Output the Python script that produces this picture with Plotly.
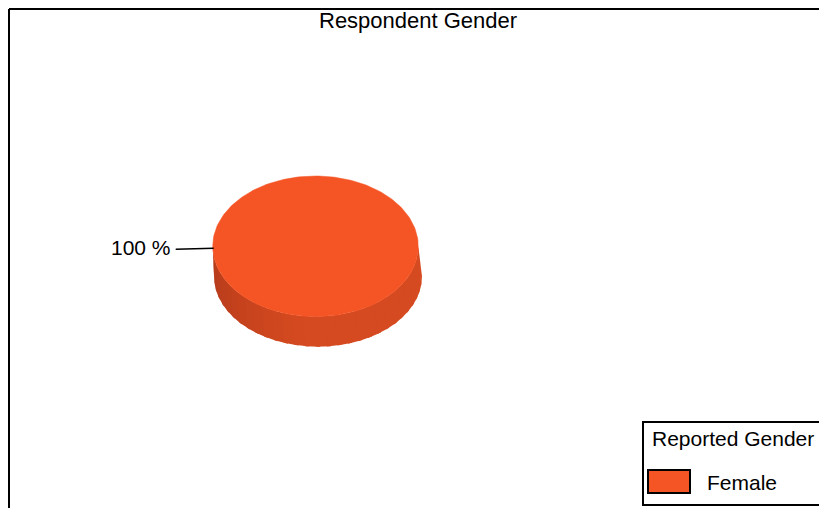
import numpy as np
import plotly.graph_objects as go

# ---- data ----
title_text = "Respondent Gender"
legend_title = "Reported Gender"
categories = ["Female"]
values = [100]
colors = ["#F55424"]
side_dark = ["#B53B1B"]
side_light = ["#D54A20"]

W, H = 827, 508
OFF = 8  # page body margin of the html page
FONT = "Liberation Sans, Arial, sans-serif"

# geometry (screen pixel space)
cx, cy, rx, ry = 315.5, 246.3, 102.8, 70.3
bcx, bcy, brx, bry = 318.0, 276.4, 104.0, 70.3

fig = go.Figure()
annotations = [
    dict(x=W / 2 + 4, y=20, text=title_text, showarrow=False, xanchor="center",
         yanchor="middle", font=dict(size=22, color="black", family=FONT)),
]


def hex2rgb(h):
    return np.array([int(h[j:j + 2], 16) for j in (1, 3, 5)], dtype=float)


total = float(sum(values))
start = np.pi  # begin at the left of the ellipse
for i, (cat, v) in enumerate(zip(categories, values)):
    frac = v / total
    a0, a1 = start, start + 2 * np.pi * frac
    # --- side: front half (angles pi..0, y pointing down) drawn as shaded strips ---
    n_strips = 30
    edges = np.linspace(np.pi, 0, n_strips + 1)
    c0, c1 = hex2rgb(side_dark[i]), hex2rgb(side_light[i])
    for k in range(n_strips):
        t0 = edges[k] + (0.02 if k > 0 else 0)
        t1 = edges[k + 1] - (0.02 if k < n_strips - 1 else 0)
        ts = np.linspace(t0, t1, 8)
        xt = cx + rx * np.cos(ts)
        yt = cy + ry * np.sin(ts)
        xb = bcx + brx * np.cos(ts[::-1])
        yb = bcy + bry * np.sin(ts[::-1])
        f = min(1.0, (k / (n_strips - 1)) * 2.2)
        col = "rgb(%d,%d,%d)" % tuple((c0 + (c1 - c0) * f).astype(int))
        fig.add_trace(go.Scatter(
            x=np.concatenate([xt, xb, xt[:1]]), y=np.concatenate([yt, yb, yt[:1]]),
            mode="lines", fill="toself", fillcolor=col,
            line=dict(width=0), hoverinfo="skip", showlegend=False))
    # --- top face ---
    ts = np.linspace(a0, a1, 240)
    xs = cx + rx * np.cos(ts)
    ys = cy + ry * np.sin(ts)
    if frac < 1:
        xs = np.concatenate([[cx], xs, [cx]])
        ys = np.concatenate([[cy], ys, [cy]])
    fig.add_trace(go.Scatter(
        x=xs, y=ys, mode="lines", fill="toself", fillcolor=colors[i],
        line=dict(width=0.5, color=colors[i]), name=cat,
        hovertemplate=f"{cat}: {v / total * 100:.0f} %<extra></extra>", showlegend=False))
    # --- label with leader line ---
    amid = (a0 + a1) / 2 if frac < 1 else np.pi
    lx = cx + rx * np.cos(amid)
    ly = cy + ry * np.sin(amid) + 2
    fig.add_trace(go.Scatter(x=[lx - 37, lx + 1], y=[ly + 1, ly], mode="lines",
                             line=dict(color="black", width=1.6),
                             hoverinfo="skip", showlegend=False))
    annotations.append(dict(x=lx - 40, y=ly - 1, text=f"{v / total * 100:.0f} %",
                            showarrow=False, xanchor="right", yanchor="middle",
                            font=dict(size=21, color="black", family=FONT)))
    start = a1

shapes = [
    dict(type="line", x0=9, y0=9, x1=W + 10, y1=9, line=dict(color="black", width=2)),
    dict(type="line", x0=9, y0=9, x1=9, y1=H + 10, line=dict(color="black", width=2)),
    dict(type="rect", x0=643, y0=422, x1=W + 10, y1=505, line=dict(color="black", width=2),
         fillcolor="white"),
]
annotations.append(dict(x=650, y=438, text=legend_title, showarrow=False, xanchor="left",
                        yanchor="middle", font=dict(size=21, color="black", family=FONT)))
for i, cat in enumerate(categories):
    y0 = 470 + i * 30
    shapes.append(dict(type="rect", x0=648, y0=y0, x1=690, y1=y0 + 23,
                       fillcolor=colors[i], line=dict(color="black", width=2)))
    annotations.append(dict(x=705, y=y0 + 12, text=cat, showarrow=False, xanchor="left",
                            yanchor="middle", font=dict(size=21, color="black", family=FONT)))

fig.update_layout(
    width=W, height=H, margin=dict(l=0, r=0, t=0, b=0),
    paper_bgcolor="white", plot_bgcolor="white",
    xaxis=dict(range=[OFF, W + OFF], visible=False, fixedrange=True),
    yaxis=dict(range=[H + OFF, OFF], visible=False, fixedrange=True),
    shapes=shapes, annotations=annotations, showlegend=False,
)

fig.write_html("out.html")
